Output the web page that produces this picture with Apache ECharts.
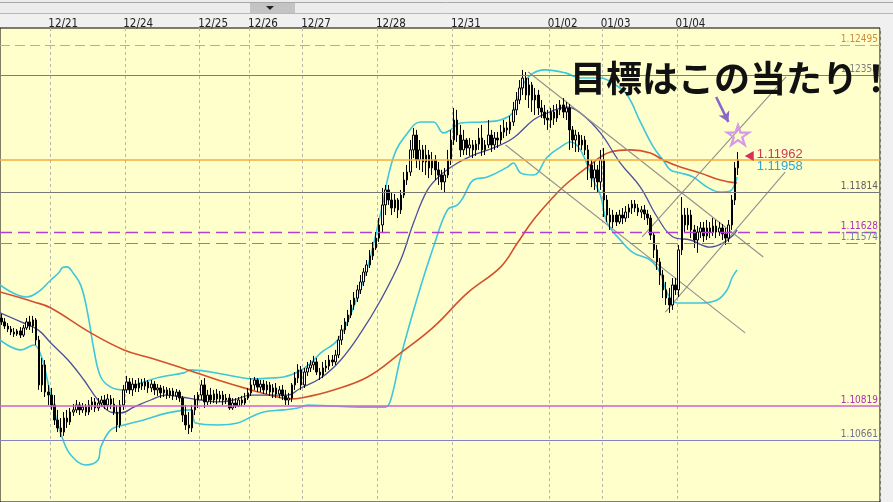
<!DOCTYPE html>
<html><head><meta charset="utf-8">
<script src="https://cdn.jsdelivr.net/npm/echarts@6/dist/echarts.min.js"></script>
<style>html,body{margin:0;padding:0;background:#f0f0f0}#c{width:893px;height:502px}</style>
</head><body><div id="c"></div><script>
// ---- data ----
const days = ['12/21','12/24','12/25','12/26','12/27','12/28','12/31','01/02','01/03','01/04'];
const dayStart = [16,40,64,80,97,121,145,176,193,217];
const slotCount = 282;
// hourly candles: [open, close, low, high]
const candles = [
[1.11228,1.11210,1.11196,1.11247],[1.11210,1.11191,1.11177,1.11228],[1.11191,1.11177,1.11163,1.11205],[1.11177,1.11163,1.11149,1.11191],
[1.11163,1.11154,1.11140,1.11182],[1.11154,1.11168,1.11145,1.11177],[1.11168,1.11149,1.11135,1.11186],[1.11149,1.11182,1.11140,1.11196],
[1.11182,1.11210,1.11173,1.11228],[1.11210,1.11191,1.11173,1.11238],[1.11191,1.11219,1.11159,1.11238],[1.11219,1.11126,1.11103,1.11228],
[1.11126,1.10917,1.10894,1.11145],[1.10917,1.11010,1.10884,1.11042],[1.11010,1.10884,1.10861,1.11033],[1.10884,1.10870,1.10824,1.10917],
[1.10870,1.10824,1.10801,1.10903],[1.10824,1.10754,1.10731,1.10870],[1.10754,1.10717,1.10698,1.10801],[1.10717,1.10698,1.10675,1.10763],
[1.10698,1.10763,1.10680,1.10791],[1.10763,1.10745,1.10717,1.10801],[1.10745,1.10791,1.10731,1.10810],[1.10791,1.10801,1.10773,1.10828],
[1.10801,1.10824,1.10787,1.10847],[1.10824,1.10801,1.10777,1.10838],[1.10801,1.10814,1.10787,1.10833],[1.10814,1.10791,1.10773,1.10828],
[1.10791,1.10824,1.10777,1.10847],[1.10824,1.10838,1.10801,1.10861],[1.10838,1.10810,1.10791,1.10856],[1.10810,1.10833,1.10796,1.10856],
[1.10833,1.10847,1.10814,1.10866],[1.10847,1.10824,1.10805,1.10870],[1.10824,1.10852,1.10801,1.10875],[1.10852,1.10828,1.10805,1.10870],
[1.10828,1.10791,1.10777,1.10856],[1.10791,1.10731,1.10698,1.10824],[1.10731,1.10824,1.10717,1.10847],[1.10824,1.10894,1.10801,1.10917],
[1.10894,1.10931,1.10880,1.10959],[1.10931,1.10894,1.10875,1.10949],[1.10894,1.10921,1.10866,1.10949],[1.10921,1.10903,1.10884,1.10940],
[1.10903,1.10926,1.10884,1.10949],[1.10926,1.10912,1.10894,1.10945],[1.10912,1.10931,1.10894,1.10949],[1.10931,1.10903,1.10880,1.10940],
[1.10903,1.10921,1.10884,1.10940],[1.10921,1.10894,1.10870,1.10935],[1.10894,1.10903,1.10866,1.10921],[1.10903,1.10880,1.10856,1.10917],
[1.10880,1.10894,1.10861,1.10912],[1.10894,1.10870,1.10852,1.10907],[1.10870,1.10889,1.10856,1.10903],[1.10889,1.10866,1.10847,1.10903],
[1.10866,1.10884,1.10847,1.10898],[1.10884,1.10856,1.10838,1.10894],[1.10856,1.10777,1.10745,1.10866],[1.10777,1.10731,1.10708,1.10824],
[1.10731,1.10717,1.10689,1.10791],[1.10717,1.10801,1.10698,1.10824],[1.10801,1.10847,1.10777,1.10870],[1.10847,1.10870,1.10810,1.10884],
[1.10870,1.10917,1.10847,1.10940],[1.10917,1.10838,1.10810,1.10949],[1.10838,1.10870,1.10824,1.10894],[1.10870,1.10847,1.10828,1.10903],
[1.10847,1.10875,1.10833,1.10894],[1.10875,1.10852,1.10828,1.10898],[1.10852,1.10870,1.10838,1.10889],[1.10870,1.10847,1.10824,1.10889],
[1.10847,1.10856,1.10828,1.10875],[1.10856,1.10810,1.10801,1.10875],[1.10810,1.10833,1.10801,1.10856],[1.10833,1.10819,1.10810,1.10856],
[1.10819,1.10847,1.10814,1.10861],[1.10847,1.10833,1.10819,1.10866],[1.10833,1.10856,1.10824,1.10880],[1.10856,1.10880,1.10847,1.10903],
[1.10880,1.10917,1.10866,1.10949],[1.10917,1.10940,1.10894,1.10954],[1.10940,1.10907,1.10884,1.10949],[1.10907,1.10921,1.10884,1.10940],
[1.10921,1.10894,1.10875,1.10940],[1.10894,1.10917,1.10875,1.10935],[1.10917,1.10884,1.10866,1.10931],[1.10884,1.10903,1.10856,1.10921],
[1.10903,1.10875,1.10856,1.10926],[1.10875,1.10894,1.10856,1.10912],[1.10894,1.10866,1.10847,1.10917],[1.10866,1.10847,1.10824,1.10894],
[1.10847,1.10856,1.10824,1.10880],[1.10856,1.10917,1.10838,1.10926],[1.10917,1.10949,1.10894,1.10977],[1.10949,1.10987,1.10926,1.11014],
[1.10987,1.10917,1.10894,1.11005],[1.10917,1.10977,1.10903,1.10996],[1.10977,1.10996,1.10959,1.11024],[1.10996,1.11010,1.10977,1.11033],
[1.11010,1.11024,1.10987,1.11052],[1.11024,1.10977,1.10963,1.11042],[1.10977,1.10963,1.10940,1.10996],[1.10963,1.10996,1.10949,1.11024],
[1.10996,1.11005,1.10977,1.11033],[1.11005,1.11033,1.10987,1.11056],[1.11033,1.11024,1.11005,1.11056],[1.11024,1.11056,1.11010,1.11080],
[1.11056,1.11126,1.11042,1.11145],[1.11126,1.11173,1.11103,1.11196],[1.11173,1.11210,1.11154,1.11228],[1.11210,1.11242,1.11191,1.11266],
[1.11242,1.11289,1.11228,1.11312],[1.11289,1.11321,1.11266,1.11349],[1.11321,1.11359,1.11303,1.11382],[1.11359,1.11396,1.11340,1.11428],
[1.11396,1.11442,1.11377,1.11461],[1.11442,1.11475,1.11424,1.11498],[1.11475,1.11517,1.11461,1.11545],[1.11517,1.11554,1.11498,1.11582],
[1.11554,1.11600,1.11545,1.11628],[1.11600,1.11661,1.11582,1.11693],[1.11661,1.11754,1.11628,1.11833],[1.11754,1.11824,1.11707,1.11847],
[1.11824,1.11777,1.11754,1.11847],[1.11777,1.11740,1.11707,1.11814],[1.11740,1.11777,1.11721,1.11805],[1.11777,1.11731,1.11693,1.11786],
[1.11731,1.11800,1.11712,1.11824],[1.11800,1.11870,1.11786,1.11907],[1.11870,1.11907,1.11847,1.11940],[1.11907,1.12010,1.11889,1.12056],
[1.12010,1.12079,1.11972,1.12112],[1.12079,1.11963,1.11926,1.12103],[1.11963,1.12010,1.11917,1.12056],[1.12010,1.11954,1.11907,1.12033],
[1.11954,1.11986,1.11893,1.12033],[1.11986,1.11926,1.11879,1.12010],[1.11926,1.11963,1.11893,1.12000],[1.11963,1.11917,1.11870,1.11986],
[1.11917,1.11893,1.11847,1.11954],[1.11893,1.11861,1.11824,1.11917],[1.11861,1.11893,1.11814,1.11926],[1.11893,1.11963,1.11879,1.12010],
[1.11963,1.12056,1.11940,1.12103],[1.12056,1.12149,1.12033,1.12205],[1.12149,1.12079,1.12047,1.12196],[1.12079,1.12010,1.11977,1.12126],
[1.12010,1.12056,1.11986,1.12103],[1.12056,1.12019,1.11986,1.12065],[1.12019,1.12033,1.11982,1.12065],[1.12033,1.12010,1.11972,1.12056],
[1.12010,1.12037,1.11982,1.12056],[1.12037,1.12065,1.12010,1.12112],[1.12065,1.12010,1.11982,1.12126],[1.12010,1.12033,1.11986,1.12056],
[1.12033,1.12079,1.12019,1.12149],[1.12079,1.12033,1.12000,1.12103],[1.12033,1.12065,1.12010,1.12093],[1.12065,1.12056,1.12019,1.12093],
[1.12056,1.12093,1.12037,1.12126],[1.12093,1.12112,1.12065,1.12149],[1.12112,1.12103,1.12075,1.12140],[1.12103,1.12140,1.12084,1.12168],
[1.12140,1.12196,1.12121,1.12233],[1.12196,1.12242,1.12172,1.12279],[1.12242,1.12298,1.12223,1.12335],[1.12298,1.12344,1.12265,1.12382],
[1.12344,1.12265,1.12242,1.12372],[1.12265,1.12312,1.12205,1.12344],[1.12312,1.12242,1.12186,1.12326],[1.12242,1.12265,1.12172,1.12298],
[1.12265,1.12205,1.12172,1.12289],[1.12205,1.12186,1.12158,1.12242],[1.12186,1.12158,1.12126,1.12219],[1.12158,1.12149,1.12103,1.12196],
[1.12149,1.12186,1.12112,1.12205],[1.12186,1.12158,1.12126,1.12219],[1.12158,1.12196,1.12140,1.12223],[1.12196,1.12219,1.12172,1.12242],
[1.12219,1.12186,1.12158,1.12251],[1.12186,1.12205,1.12149,1.12233],[1.12205,1.12103,1.12010,1.12223],[1.12103,1.12056,1.12019,1.12121],
[1.12056,1.12079,1.12000,1.12103],[1.12079,1.12033,1.12000,1.12093],[1.12033,1.12056,1.12010,1.12079],[1.12056,1.12010,1.11986,1.12075],
[1.12010,1.11940,1.11870,1.12033],[1.11940,1.11879,1.11837,1.11963],[1.11879,1.11917,1.11824,1.11954],[1.11917,1.11861,1.11814,1.11940],
[1.11861,1.11963,1.11824,1.12010],[1.11963,1.11777,1.11698,1.12019],[1.11777,1.11707,1.11675,1.11800],[1.11707,1.11675,1.11638,1.11740],
[1.11675,1.11707,1.11647,1.11731],[1.11707,1.11675,1.11656,1.11721],[1.11675,1.11707,1.11665,1.11731],[1.11707,1.11693,1.11665,1.11740],
[1.11693,1.11721,1.11675,1.11749],[1.11721,1.11740,1.11693,1.11758],[1.11740,1.11758,1.11712,1.11777],[1.11758,1.11740,1.11721,1.11777],
[1.11740,1.11721,1.11703,1.11758],[1.11721,1.11731,1.11693,1.11749],[1.11731,1.11712,1.11684,1.11754],[1.11712,1.11693,1.11661,1.11731],
[1.11693,1.11614,1.11591,1.11707],[1.11614,1.11545,1.11507,1.11628],[1.11545,1.11489,1.11452,1.11568],[1.11489,1.11428,1.11382,1.11507],
[1.11428,1.11359,1.11321,1.11452],[1.11359,1.11321,1.11289,1.11396],[1.11321,1.11289,1.11252,1.11368],[1.11289,1.11382,1.11266,1.11414],
[1.11382,1.11359,1.11335,1.11414],[1.11359,1.11545,1.11326,1.11568],[1.11545,1.11707,1.11521,1.11791],[1.11707,1.11661,1.11628,1.11740],
[1.11661,1.11707,1.11638,1.11740],[1.11707,1.11638,1.11600,1.11731],[1.11638,1.11591,1.11554,1.11661],[1.11591,1.11628,1.11531,1.11656],
[1.11628,1.11647,1.11600,1.11675],[1.11647,1.11610,1.11582,1.11675],[1.11610,1.11647,1.11591,1.11684],[1.11647,1.11628,1.11600,1.11675],
[1.11628,1.11656,1.11610,1.11693],[1.11656,1.11628,1.11600,1.11684],[1.11628,1.11647,1.11610,1.11675],[1.11647,1.11619,1.11591,1.11665],
[1.11619,1.11600,1.11568,1.11647],[1.11600,1.11661,1.11582,1.11684],[1.11661,1.11777,1.11638,1.11800],[1.11777,1.11926,1.11754,1.11954],
[1.11926,1.11963,1.11893,1.12000]
];
// indicator lines: [bar index, price]
const bbUpper = [[-0.5,1.11382],[8,1.11326],[11.7,1.11349],[15.8,1.11405],[18.4,1.11440],[19.6,1.11463],[21,1.11466],[22.8,1.11440],[25.4,1.11380],[27.7,1.11242],[29.6,1.11080],[31.8,1.10954],[35,1.10907],[39.2,1.10894],[44.6,1.10926],[51,1.10954],[58.4,1.10973],[60.6,1.10987],[67,1.10977],[75.7,1.10954],[79.9,1.10945],[86.2,1.10949],[90.4,1.10954],[94.9,1.10977],[99.1,1.11019],[102.3,1.11066],[107.7,1.11126],[112.8,1.11279],[117.3,1.11465],[121.5,1.11717],[125.6,1.11977],[130.1,1.12089],[134.3,1.12140],[138.4,1.12140],[141.6,1.12089],[143.9,1.12103],[147.1,1.12135],[154.4,1.12140],[159.9,1.12149],[164,1.12186],[166.3,1.12289],[169.5,1.12358],[174.3,1.12382],[180.7,1.12368],[185.5,1.12344],[191.9,1.12344],[196.7,1.12312],[200.5,1.12265],[204.7,1.12140],[208.9,1.12023],[212,1.11963],[214.3,1.11917],[217.5,1.11903],[221.6,1.11884],[226.1,1.11837],[230.3,1.11814],[233.5,1.11819],[235.1,1.11856],[235.7,1.11884]];
const bbLower = [[-0.5,1.11126],[6.2,1.11080],[10.4,1.11103],[12.6,1.11056],[14.9,1.10926],[16.8,1.10801],[19.7,1.10661],[22.2,1.10591],[27,1.10545],[30.9,1.10568],[31.8,1.10628],[35,1.10708],[39.2,1.10731],[45.6,1.10754],[53.3,1.10787],[60.6,1.10801],[62.2,1.10740],[69.3,1.10731],[75.7,1.10740],[79.9,1.10768],[84,1.10791],[90.4,1.10801],[94.9,1.10810],[98.1,1.10824],[105.5,1.10819],[115.1,1.10814],[123,1.10814],[124.7,1.10847],[127.9,1.11047],[133.3,1.11326],[138.4,1.11558],[142.9,1.11731],[146.1,1.11754],[148,1.11791],[151.2,1.11870],[155.7,1.11884],[162.1,1.11930],[164,1.11949],[166.3,1.11903],[170.4,1.11893],[174.9,1.11977],[179.1,1.12023],[182.3,1.12047],[185.5,1.12010],[189.6,1.11870],[191.9,1.11800],[194.1,1.11670],[198.3,1.11591],[202.5,1.11531],[207.9,1.11498],[211.1,1.11438],[213.3,1.11345],[216.5,1.11298],[223.9,1.11298],[229.3,1.11312],[232.5,1.11359],[234.2,1.11419],[235.7,1.11452]];
const maMid = [[-0.5,1.11252],[6.2,1.11210],[11.7,1.11173],[15.8,1.11112],[21.3,1.11033],[26.4,1.10940],[30.9,1.10847],[35,1.10791],[38.2,1.10787],[42.4,1.10814],[47.8,1.10847],[52.6,1.10870],[57.4,1.10861],[63.8,1.10847],[69.3,1.10838],[74.4,1.10847],[79.9,1.10870],[85.3,1.10870],[91.7,1.10870],[95.9,1.10903],[102.3,1.10949],[108.7,1.11033],[115.1,1.11159],[121.5,1.11312],[127.9,1.11498],[132,1.11670],[136.5,1.11824],[140.7,1.11893],[146.1,1.11949],[151.2,1.11986],[157.6,1.12019],[164,1.12065],[170.4,1.12149],[174.9,1.12182],[181.3,1.12209],[185.5,1.12182],[191.9,1.12089],[198.3,1.11949],[204.7,1.11837],[210.1,1.11698],[215.2,1.11605],[220.7,1.11591],[227.1,1.11558],[231.2,1.11577],[234.5,1.11614],[235.7,1.11638]];
const maLong = [[-0.5,1.11349],[10.4,1.11303],[15.8,1.11275],[28.6,1.11159],[39.2,1.11080],[47.8,1.11042],[59.7,1.10987],[69.3,1.10940],[79.9,1.10894],[88.5,1.10861],[92.6,1.10852],[95.9,1.10856],[106.4,1.10894],[117.3,1.10954],[127.9,1.11066],[138.4,1.11186],[149.3,1.11345],[159.9,1.11465],[165.3,1.11577],[170.4,1.11684],[176.8,1.11791],[181.3,1.11856],[187.7,1.11930],[195.1,1.12000],[201.5,1.12010],[207.9,1.11996],[212,1.11963],[217.5,1.11930],[223.9,1.11903],[230.3,1.11870],[235.7,1.11856]];
const trendLines = [
  [[168.8,1.12372],[244.1,1.11512]],
  [[161.5,1.12033],[238.3,1.11159]],
  [[205.3,1.11605],[251.4,1.12349]],
  [[212.7,1.11256],[251.1,1.11907]]
];
const levelValues = [1.12495,1.12358,1.11962,1.11814,1.11628,1.11574,1.10819,1.10661];
const askPrice = 1.11962, bidPrice = 1.11958;
const markerAt = [239.6, 1.11982];
const targetStar = [236, 1.12079];
const arrowFrom = [229.0, 1.12256], arrowTo = [232.9, 1.12140];
const note = '目標はこの当たり！';

// ---- chart ----
const categories = Array.from({length: slotCount}, (_, i) => 'h' + i);
const dayOfLabel = (i) => dayStart.indexOf(i + 1);   // label drawn on last bar before the day boundary
const isBoundary = (i) => dayStart.indexOf(i) >= 0;
const levelStyles = [
  {color:'#f0a050', type:[10,5], width:1, lc:'#d08a3c', label:true},
  {color:'#7c7c7c', type:'solid', width:1, lc:'#808080', label:true},
  {color:'#f2ae3a', type:'solid', width:1.5, lc:'#f2ae3a', label:false},
  {color:'#787878', type:'solid', width:1, lc:'#606060', label:true},
  {color:'#b040d0', type:[12,6], width:1.3, lc:'#b030b8', label:true},
  {color:'#8080d8', type:[12,6], width:1.2, lc:'#7080a8', label:true},
  {color:'#d060d0', type:'solid', width:1.5, lc:'#b030b0', label:true},
  {color:'#8484c4', type:'solid', width:1.2, lc:'#707090', label:true}
];
const NARROW = '"Liberation Sans Narrow","DejaVu Sans Condensed","Liberation Sans",sans-serif';
const levelLines = levelValues.map((v, k) => ({
  yAxis: v,
  lineStyle: {color: levelStyles[k].color, type: levelStyles[k].type, width: levelStyles[k].width},
  label: {show: levelStyles[k].label, position: 'insideEndTop', formatter: v.toFixed(5),
          color: levelStyles[k].lc, fontSize: 10, fontFamily: NARROW, distance: [2, 1]}
}));
const starPath = 'path://M50,2 L61,36 L97,36 L68,57 L79,92 L50,70 L21,92 L32,57 L3,36 L39,36 Z';
const lineSeries = (data, color, width, z) => ({
  type: 'line', xAxisIndex: 1, yAxisIndex: 0, data, showSymbol: false, smooth: 0.4,
  lineStyle: {color, width}, z, silent: true
});
const option = {
  animation: false,
  backgroundColor: '#f0f0f0',
  grid: {left: -1, right: 13, top: 28, bottom: 0, show: true, backgroundColor: '#ffffcc',
         borderColor: '#000', borderWidth: 1},
  xAxis: [
    {type: 'category', data: categories, position: 'top', boundaryGap: true,
     axisLine: {show: false}, axisTick: {show: false},
     axisLabel: {interval: (i) => dayOfLabel(i) >= 0, formatter: (v, i) => days[dayOfLabel(i)] || '',
                 align: 'left', margin: -2, color: '#222', fontSize: 11.5, fontFamily: NARROW},
     splitLine: {show: true, interval: (i) => isBoundary(i),
                 lineStyle: {color: '#b8b8a8', type: [3, 3], width: 1}}},
    {type: 'value', min: -0.5, max: slotCount - 0.5, show: false}
  ],
  yAxis: {type: 'value', min: 1.103727, max: 1.125768, show: false, splitLine: {show: false}},
  series: [
    {type: 'line', xAxisIndex: 1, data: [], z: 1, silent: true,
     markLine: {silent: true, symbol: ['none','none'], precision: 6, animation: false, data: levelLines}},
    lineSeries(bbUpper, '#3ec6dc', 1.6, 2),
    lineSeries(bbLower, '#3ec6dc', 1.6, 2),
    lineSeries(maLong, '#d4502c', 1.6, 2),
    lineSeries(maMid, '#4c4e9e', 1.3, 2),
    ...trendLines.map(t => ({type: 'line', xAxisIndex: 1, data: t, showSymbol: false,
      lineStyle: {color: '#909090', width: 1.1}, z: 2, silent: true})),
    {type: 'candlestick', xAxisIndex: 0, data: candles, barWidth: 2, z: 3,
     itemStyle: {color: '#ffffff', color0: '#000000', borderColor: '#000000', borderColor0: '#000000', borderWidth: 1}},
    {type: 'line', xAxisIndex: 1, data: [], z: 5, silent: true,
     markPoint: {silent: true, data: [
       {coord: markerAt, symbol: 'triangle', symbolRotate: 90, symbolSize: [10, 9],
        itemStyle: {color: '#d83058'},
        label: {show: true, position: 'right', distance: 3, offset: [0, 5],
                formatter: '{a|' + askPrice.toFixed(5) + '}\n{b|' + bidPrice.toFixed(5) + '}',
                rich: {a: {color: '#d03858', fontSize: 13, lineHeight: 12, fontFamily: '"Liberation Sans",sans-serif'},
                       b: {color: '#2ea6d6', fontSize: 13, lineHeight: 12, fontFamily: '"Liberation Sans",sans-serif'}}}},
       {coord: targetStar, symbol: starPath, symbolSize: [22, 20],
        itemStyle: {color: 'rgba(0,0,0,0)', borderColor: '#d898ea', borderWidth: 2.2},
        label: {show: false}}
     ]},
     markLine: {silent: true, symbol: ['none', 'arrow'], symbolSize: [9, 10], precision: 6,
       lineStyle: {color: '#8a66c8', width: 2.6, type: 'solid', curveness: 0.15},
       label: {show: false},
       data: [[{coord: arrowFrom}, {coord: arrowTo}]]}}
  ],
  graphic: [
    {type: 'rect', shape: {x: 0, y: 0, width: 893, height: 13}, style: {fill: '#ececec'}, silent: true},
    {type: 'line', shape: {x1: 0, y1: 2.5, x2: 893, y2: 2.5}, style: {stroke: '#a8a8a8', lineWidth: 1}, silent: true},
    {type: 'line', shape: {x1: 0, y1: 13.5, x2: 893, y2: 13.5}, style: {stroke: '#b8b8b8', lineWidth: 1}, silent: true},
    {type: 'rect', shape: {x: 250, y: 3, width: 45, height: 10}, style: {fill: '#c4c4c4'}, silent: true},
    {type: 'polygon', shape: {points: [[266, 6], [274, 6], [270, 10]]}, style: {fill: '#222'}, silent: true},
    {type: 'text', z: 100, silent: true,
     style: {text: note, x: 570, y: 78, fill: '#111', align: 'left', verticalAlign: 'middle',
             font: 'bold 36px "Noto Sans CJK JP", sans-serif'}}
  ]
};
const chart = echarts.init(document.getElementById('c'), null, {renderer: 'canvas'});
chart.setOption(option);
</script></body></html>
